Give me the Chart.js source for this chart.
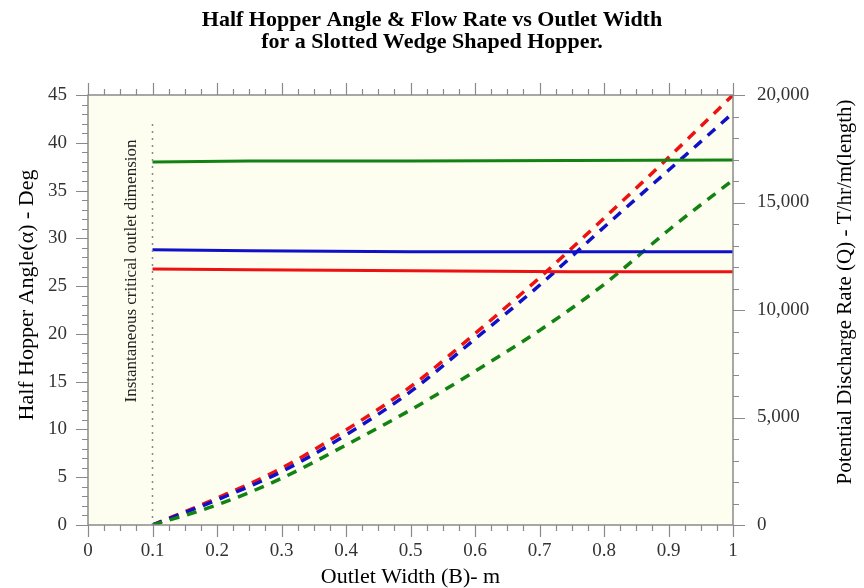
<!DOCTYPE html>
<html>
<head>
<meta charset="utf-8">
<script src="https://cdn.jsdelivr.net/npm/chart.js@4/dist/chart.umd.min.js"></script>
<style>
  html, body { margin: 0; padding: 0; background: #fff; }
  #wrap { width: 864px; height: 588px; }
</style>
</head>
<body>
<div id="wrap"><canvas id="hopperChart"></canvas></div>
<script>
// Outlet width B (m) where curves are read
const widthB = [0.1, 0.2, 0.3, 0.4, 0.5, 0.6, 0.7, 0.8, 0.9, 1.0];
// Flow rate Q (T/hr/m) - dashed curves, right axis
const flowRed   = [0, 1250, 2640, 4420, 6430, 8900, 11500, 14270, 17090, 20000];
const flowBlue  = [0, 1170, 2480, 4190, 6200, 8650, 11150, 13850, 16500, 19160];
const flowGreen = [0, 930, 2170, 3720, 5350, 7150, 9050, 11190, 13710, 16050];

// Half hopper angle (deg) - solid lines, left axis
const angleB     = [0.1, 0.25, 0.5, 0.75, 1.0];
const angleRed   = [26.8, 26.7, 26.6, 26.5, 26.5];
const angleBlue  = [28.8, 28.7, 28.6, 28.6, 28.6];
const angleGreen = [38.0, 38.1, 38.1, 38.15, 38.2];

// critical outlet dimension marker
const criticalB = 0.1;
const criticalTop = 42.4;

const xTickLabels = ['0', '0.1', '0.2', '0.3', '0.4', '0.5', '0.6', '0.7', '0.8', '0.9', '1'];
const leftTicks = [0, 5, 10, 15, 20, 25, 30, 35, 40, 45];
const rightTicks = [0, 5000, 10000, 15000, 20000];

const RED = '#ee1111', BLUE = '#1010c8', GREEN = '#128212';
const serif = '"Liberation Serif", "Times New Roman", serif';

function pts(xs, ys) {
    return xs.map((x, i) => ({ x: x, y: ys[i] }));
}

function solidSet(label, xs, ys, color) {
    return { label, data: pts(xs, ys), yAxisID: 'yAngle', borderColor: color,
             borderWidth: 3, pointRadius: 0, tension: 0, fill: false };
}
function dashSet(label, xs, ys, color) {
    return { label, data: pts(xs, ys), yAxisID: 'yFlow', borderColor: color,
             borderWidth: 3.5, borderDash: [10, 8], pointRadius: 0,
             cubicInterpolationMode: 'monotone', fill: false };
}

// cream plot background, frame, major/minor ticks, axis titles, marker label
const framePlugin = {
    id: 'frame',
    beforeDraw(chart) {
        const { ctx, chartArea: a } = chart;
        ctx.save();
        ctx.fillStyle = '#fdfdf0';
        ctx.fillRect(a.left, a.top, a.right - a.left, a.bottom - a.top);
        ctx.restore();
    },
    afterDraw(chart) {
        const { ctx, chartArea: a, scales } = chart;
        const sx = scales.x, yl = scales.yAngle, yr = scales.yFlow;
        ctx.save();
        ctx.strokeStyle = '#8a8a8a';
        ctx.lineWidth = 1.5;
        ctx.strokeRect(a.left, a.top, a.right - a.left, a.bottom - a.top);
        ctx.lineWidth = 1.2;
        ctx.beginPath();
        // x ticks, bottom and top, every 0.025
        for (let i = 0; i <= 40; i++) {
            const px = Math.round(sx.getPixelForValue(i * 0.025)) + 0.5;
            const len = i % 4 === 0 ? 12 : 6;
            ctx.moveTo(px, a.bottom); ctx.lineTo(px, a.bottom + len);
            ctx.moveTo(px, a.top); ctx.lineTo(px, a.top - len);
        }
        // left ticks, every 1 deg
        for (let v = 0; v <= 45; v++) {
            const py = Math.round(yl.getPixelForValue(v)) + 0.5;
            const len = v % 5 === 0 ? 12 : 6;
            ctx.moveTo(a.left, py); ctx.lineTo(a.left - len, py);
        }
        // right ticks, every 1000
        for (let v = 0; v <= 20000; v += 1000) {
            const py = Math.round(yr.getPixelForValue(v)) + 0.5;
            const len = v % 5000 === 0 ? 12 : 6;
            ctx.moveTo(a.right, py); ctx.lineTo(a.right + len, py);
        }
        ctx.stroke();

        // axis titles
        ctx.fillStyle = '#000';
        ctx.font = '22px ' + serif;
        ctx.textAlign = 'center';
        ctx.textBaseline = 'middle';
        ctx.fillText('Outlet Width (B)- m', (a.left + a.right) / 2, 577);

        ctx.save();
        ctx.translate(27, 295);
        ctx.rotate(-Math.PI / 2);
        ctx.fillText('Half Hopper Angle(\u03b1) - Deg', 0, 0);
        ctx.restore();

        ctx.save();
        ctx.translate(845, 292);
        ctx.rotate(-Math.PI / 2);
        ctx.font = '21px ' + serif;
        ctx.fillText('Potential Discharge Rate (Q) - T/hr/m(length)', 0, 0);
        ctx.restore();

        // marker label
        ctx.save();
        ctx.translate(sx.getPixelForValue(criticalB) - 21, 271);
        ctx.rotate(-Math.PI / 2);
        ctx.font = '17px ' + serif;
        ctx.fillStyle = '#222';
        ctx.fillText('Instantaneous critical outlet dimension', 0, 0);
        ctx.restore();
        ctx.restore();
    }
};

const tickFont = { family: serif, size: 19 };

new Chart(document.getElementById('hopperChart'), {
    type: 'line',
    data: {
        datasets: [
            { label: 'critical', data: [{ x: criticalB, y: 0 }, { x: criticalB, y: criticalTop }],
              yAxisID: 'yAngle', borderColor: '#888', borderWidth: 1.5, borderDash: [2, 5],
              pointRadius: 0, fill: false },
            solidSet('Angle green', angleB, angleGreen, GREEN),
            solidSet('Angle blue', angleB, angleBlue, BLUE),
            solidSet('Angle red', angleB, angleRed, RED),
            dashSet('Flow green', widthB, flowGreen, GREEN),
            dashSet('Flow blue', widthB, flowBlue, BLUE),
            dashSet('Flow red', widthB, flowRed, RED)
        ]
    },
    options: {
        responsive: true,
        maintainAspectRatio: false,
        animation: false,
        layout: { padding: 0 },
        plugins: {
            legend: { display: false },
            tooltip: { enabled: false },
            title: {
                display: true,
                text: ['Half Hopper Angle & Flow Rate vs Outlet Width',
                       'for a Slotted Wedge Shaped Hopper.'],
                color: '#000',
                font: { family: serif, size: 22, weight: 'bold', lineHeight: 1.0 },
                padding: { top: 9, bottom: 42 }
            }
        },
        scales: {
            x: {
                type: 'linear', min: 0, max: 1,
                grid: { display: false, drawTicks: true, tickLength: 12 },
                border: { display: false },
                ticks: { stepSize: 0.1, padding: 3, color: '#333', font: tickFont,
                         maxRotation: 0, autoSkip: false,
                         callback: (v) => xTickLabels[Math.round(v * 10)] },
                afterFit: (s) => { s.height = 63; }
            },
            yAngle: {
                type: 'linear', position: 'left', min: 0, max: 45,
                grid: { display: false, drawTicks: true, tickLength: 12 },
                border: { display: false },
                ticks: { stepSize: 5, padding: 9, color: '#333', font: tickFont,
                         callback: (v) => leftTicks.includes(v) ? String(v) : '' },
                afterFit: (s) => { s.width = 88; }
            },
            yFlow: {
                type: 'linear', position: 'right', min: 0, max: 20000,
                grid: { display: false, drawTicks: true, tickLength: 12 },
                border: { display: false },
                ticks: { stepSize: 5000, padding: 12, color: '#333', font: tickFont,
                         callback: (v) => rightTicks.includes(v) ? v.toLocaleString('en-US') : '' },
                afterFit: (s) => { s.width = 131; }
            }
        }
    },
    plugins: [framePlugin]
});
</script>
</body>
</html>
